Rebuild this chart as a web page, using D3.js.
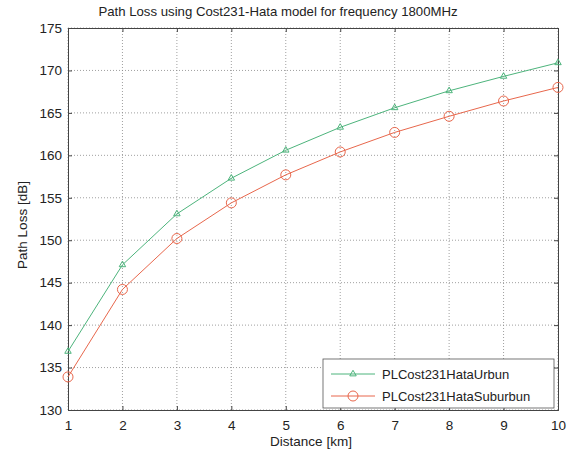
<!DOCTYPE html>
<html><head><meta charset="utf-8">
<script src="https://cdn.jsdelivr.net/npm/d3@7"></script>
<style>body{margin:0;background:#fff}svg{display:block}text{font-family:"Liberation Sans",Arial,sans-serif;fill:#222}</style>
</head><body><svg id="c" width="581" height="459"></svg>
<script>
const distances = [1,2,3,4,5,6,7,8,9,10];
const urban = [136.9,147.1,153.1,157.3,160.6,163.3,165.6,167.6,169.3,170.9];
const suburban = [133.9,144.2,150.2,154.4,157.7,160.4,162.7,164.6,166.4,168.0];
const xTicks = [1,2,3,4,5,6,7,8,9,10];
const yTicks = [130,135,140,145,150,155,160,165,170,175];
const seriesNames = ["PLCost231HataUrbun","PLCost231HataSuburbun"];

const svg = d3.select("#c");
const L=68,R=558,T=28,B=410;
const x = d3.scaleLinear().domain([1,10]).range([L,R]);
const y = d3.scaleLinear().domain([130,175]).range([B,T]);
const grid = svg.append("g").attr("stroke","#888").attr("stroke-width",0.8).attr("stroke-dasharray","1,2");
xTicks.forEach(t=>grid.append("line").attr("x1",x(t)).attr("x2",x(t)).attr("y1",T).attr("y2",B));
yTicks.forEach(t=>grid.append("line").attr("x1",L).attr("x2",R).attr("y1",y(t)).attr("y2",y(t)));

const fs = 13.5;
svg.append("g").attr("transform",`translate(0,${B})`).call(d3.axisBottom(x).tickValues(xTicks).tickSize(-4).tickPadding(10).tickFormat(d3.format("d")));
svg.append("g").attr("transform",`translate(${L},0)`).call(d3.axisLeft(y).tickValues(yTicks).tickSize(-4).tickPadding(6));
svg.append("g").attr("transform",`translate(0,${T})`).call(d3.axisTop(x).tickValues(xTicks).tickSize(-4).tickFormat(""));
svg.append("g").attr("transform",`translate(${R},0)`).call(d3.axisRight(y).tickValues(yTicks).tickSize(-4).tickFormat(""));
svg.selectAll(".domain").attr("stroke","#444");
svg.selectAll(".tick line").attr("stroke","#444");
svg.selectAll(".tick text").attr("font-size",fs).attr("fill","#222").attr("font-family","Liberation Sans, Arial, sans-serif");

const green="#4db47c", red="#e8674c";
const line = d3.line().x((d,i)=>x(distances[i])).y(d=>y(d));
svg.append("path").datum(urban).attr("d",line).attr("fill","none").attr("stroke",green).attr("stroke-width",1);
svg.append("path").datum(suburban).attr("d",line).attr("fill","none").attr("stroke",red).attr("stroke-width",1);
const tri = d3.symbol().type(d3.symbolTriangle).size(18);
svg.append("g").selectAll("path").data(urban).join("path").attr("d",tri)
  .attr("transform",(d,i)=>`translate(${x(distances[i])},${y(d)})`).attr("fill","none").attr("stroke",green).attr("stroke-width",1);
svg.append("g").selectAll("circle").data(suburban).join("circle")
  .attr("cx",(d,i)=>x(distances[i])).attr("cy",d=>y(d)).attr("r",5).attr("fill","none").attr("stroke",red).attr("stroke-width",1);

svg.append("text").attr("x",278).attr("y",16).attr("text-anchor","middle").attr("font-size",13.2).text("Path Loss using Cost231-Hata model for frequency 1800MHz");
svg.append("text").attr("x",311).attr("y",446).attr("text-anchor","middle").attr("font-size",fs).text("Distance [km]");
svg.append("text").attr("transform","translate(27,225) rotate(-90)").attr("text-anchor","middle").attr("font-size",fs).text("Path Loss [dB]");

// legend
const lg = svg.append("g");
lg.append("rect").attr("x",323).attr("y",359).attr("width",231).attr("height",49).attr("fill","#fff").attr("stroke","#555").attr("stroke-width",0.8);
const rows=[{c:green,m:"tri",y:374},{c:red,m:"circ",y:396}];
rows.forEach((r,i)=>{
  lg.append("line").attr("x1",331).attr("x2",375).attr("y1",r.y).attr("y2",r.y).attr("stroke",r.c).attr("stroke-width",1);
  if(r.m==="tri") lg.append("path").attr("d",tri).attr("transform",`translate(353,${r.y})`).attr("fill","none").attr("stroke",r.c);
  else lg.append("circle").attr("cx",353).attr("cy",r.y).attr("r",5).attr("fill","none").attr("stroke",r.c);
  lg.append("text").attr("x",382).attr("y",r.y+4.5).attr("font-size",13).text(seriesNames[i]);
});
</script></body></html>
